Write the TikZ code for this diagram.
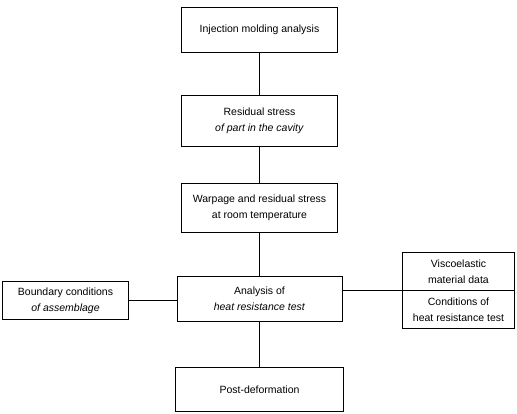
\documentclass[tikz,border=0pt]{standalone}
\usepackage{fontspec}
\setmainfont{Liberation Sans}
\usetikzlibrary{positioning}

\begin{document}
\begin{tikzpicture}[
    x=1pt, y=1pt,
    node distance=90pt,
    stepbox/.style={rectangle, draw, line width=1pt, align=center, minimum width=156pt, minimum height=45pt, font=\fontsize{10.5}{16}\selectfont},
    sidebox/.style={rectangle, draw, line width=1pt, align=center, minimum width=112pt, minimum height=38pt, font=\fontsize{10.5}{16}\selectfont},
    line/.style={draw, line width=1pt}
]
    \useasboundingbox (0,0) rectangle (517,-414);

    % Main chain
    \node (inj) [stepbox] at (259.5,-30) {Injection molding analysis};
    \node (resid) [stepbox, below of=inj, node distance=91pt, minimum height=51pt] {Residual stress\\ \textit{of part in the cavity}};
    \node (warp) [stepbox, below of=resid, node distance=87pt, minimum height=49pt] {Warpage and residual stress\\at room temperature};
    \node (heat) [stepbox, below of=warp, node distance=91pt, minimum width=165pt] {Analysis of\\ \textit{heat resistance test}};
    \node (post) [stepbox, below of=heat, node distance=90.5pt, minimum width=168pt, minimum height=44pt] {Post-deformation};

    % Side inputs
    \node (bound) [sidebox, left of=heat, node distance=194pt, yshift=-1.5pt, minimum width=126pt] {Boundary conditions\\ \textit{of assemblage}};
    \node (visco) [sidebox, right of=heat, node distance=199pt, yshift=27.5pt] {Viscoelastic\\ material data};
    \node (cond) [sidebox, below=-1pt of visco] {Conditions of\\heat resistance test};

    % Connections
    \draw [line] (inj) -- (resid);
    \draw [line] (resid) -- (warp);
    \draw [line] (warp) -- (heat);
    \draw [line] (heat) -- (post);
    \draw [line] (bound) -- (bound -| heat.west);
    \draw [line] (heat.east |- visco.south) -- (visco.south west);

\end{tikzpicture}
\end{document}
